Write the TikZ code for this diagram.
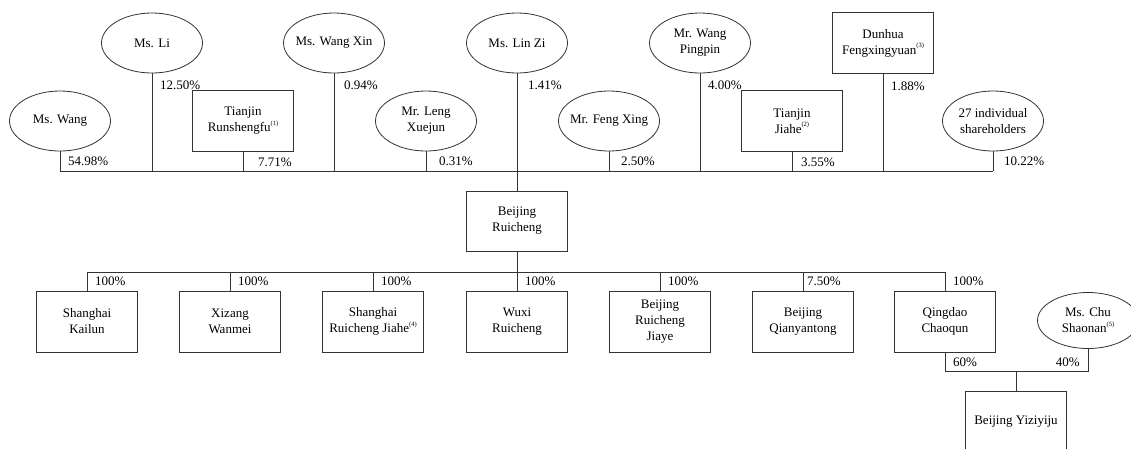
\documentclass[tikz,border=0pt]{standalone}
\usepackage{fontspec}
\setmainfont{Liberation Serif}
\usetikzlibrary{shapes.geometric,calc}
\newcommand\fnmark[1]{\raisebox{0.5em}{\fontsize{6.5}{6.5}\selectfont(#1)}}
\begin{document}
\begin{tikzpicture}[x=1pt,y=-1pt,
  font=\fontsize{13}{16}\selectfont,
  pbox/.style={draw=black!80, line width=0.8pt, minimum width=101pt, minimum height=61pt, inner sep=0pt, align=center},
  pell/.style={ellipse, draw=black!80, line width=0.8pt, minimum width=101pt, minimum height=60pt, inner sep=0pt},
  pct/.style={inner sep=0pt, anchor=west},
  pctr/.style={inner sep=0pt, anchor=east},
  conn/.style={draw=black!80, line width=0.8pt}]
\useasboundingbox (0,0) rectangle (1131,448);
\clip (0,0) rectangle (1131,448);
% top row
\node[pell, label={[align=center]center:Ms. Li}] (li) at (152,43) {};
\node[pell, label={[align=center]center:Ms. Wang Xin}] (wangxin) at (334,43) {};
\node[pell, label={[align=center]center:Ms. Lin Zi}] (linzi) at (517,43) {};
\node[pell, label={[align=center]center:{Mr. Wang\\Pingpin}}] (pingpin) at (700,43) {};
\node[pbox] (dunhua) at (883,43) {Dunhua\\Fengxingyuan\fnmark{3}};
% second row
\node[pell, label={[align=center]center:Ms. Wang}] (wang) at (60,121) {};
\node[pbox] (runsheng) at (243,121) {Tianjin\\Runshengfu\fnmark{1}};
\node[pell, label={[align=center]center:{Mr. Leng\\Xuejun}}] (leng) at (426,121) {};
\node[pell, label={[align=center]center:Mr. Feng Xing}] (feng) at (609,121) {};
\node[pbox] (jiahe) at (792,121) {Tianjin\\Jiahe\fnmark{2}};
\node[pell, label={[align=center]center:{27 individual\\shareholders}}] (indiv) at (993,121) {};
% centre
\node[pbox, minimum height=60pt] (ruicheng) at (517,221) {Beijing\\Ruicheng};
% children
\node[pbox] (kailun) at (87,321.5) {Shanghai\\Kailun};
\node[pbox] (wanmei) at (230,321.5) {Xizang\\Wanmei};
\node[pbox] (srjiahe) at (373,321.5) {Shanghai\\Ruicheng Jiahe\fnmark{4}};
\node[pbox] (wuxi) at (517,321.5) {Wuxi\\Ruicheng};
\node[pbox] (jiaye) at (660,321.5) {Beijing\\Ruicheng\\Jiaye};
\node[pbox] (qian) at (803,321.5) {Beijing\\Qianyantong};
\node[pbox] (qingdao) at (945,321.5) {Qingdao\\Chaoqun};
\node[pell, minimum height=56pt, label={[align=center]center:{Ms. Chu\\Shaonan\fnmark{5}}}] (chu) at (1088,320.5) {};
\node[pbox] (yiziyiju) at (1016,421.5) {Beijing Yiziyiju};
% main bar
\coordinate (mb) at (0,171);
\foreach \n in {wang,li,runsheng,wangxin,leng,linzi,feng,pingpin,jiahe,dunhua,indiv}
  \draw[conn] (\n.south) -- (\n.south |- mb);
\draw[conn] (wang.south |- mb) -- (indiv.south |- mb);
\draw[conn] (linzi.south |- mb) -- (ruicheng.north);
% percentages, upper
\node[pct] (p1) at ($(wang.south)+(8,10)$) {54.98\%};
\node[pct] (p2) at ($(li.south)+(8,12)$) {12.50\%};
\node[pct] (p3) at ($(runsheng.south)+(15,10)$) {7.71\%};
\node[pct] (p4) at ($(wangxin.south)+(10,12)$) {0.94\%};
\node[pct] (p5) at ($(leng.south)+(13,10)$) {0.31\%};
\node[pct] (p6) at ($(linzi.south)+(11,12)$) {1.41\%};
\node[pct] (p7) at ($(feng.south)+(12,10)$) {2.50\%};
\node[pct] (p8) at ($(pingpin.south)+(8,12)$) {4.00\%};
\node[pct] (p9) at ($(jiahe.south)+(9,10)$) {3.55\%};
\node[pct] (p10) at ($(dunhua.south)+(8,12)$) {1.88\%};
\node[pct] (p11) at ($(indiv.south)+(11,10)$) {10.22\%};
% sub bar
\coordinate (sb) at (0,272);
\draw[conn] (ruicheng.south) -- (ruicheng.south |- sb);
\draw[conn] (kailun.north |- sb) -- (qingdao.north |- sb);
\foreach \n in {kailun,wanmei,srjiahe,wuxi,jiaye,qian,qingdao}
  \draw[conn] (\n.north |- sb) -- (\n.north);
\node[pct] (c1) at ($(kailun.north)+(8,-9.5)$) {100\%};
\node[pct] (c2) at ($(wanmei.north)+(8,-9.5)$) {100\%};
\node[pct] (c3) at ($(srjiahe.north)+(8,-9.5)$) {100\%};
\node[pct] (c4) at ($(wuxi.north)+(8,-9.5)$) {100\%};
\node[pct] (c5) at ($(jiaye.north)+(8,-9.5)$) {100\%};
\node[pct] (c6) at ($(qian.north)+(4,-9.5)$) {7.50\%};
\node[pct] (c7) at ($(qingdao.north)+(8,-9.5)$) {100\%};
% bottom bar
\coordinate (bb) at (0,371);
\draw[conn] (qingdao.south) -- (qingdao.south |- bb) -- (chu.south |- bb) -- (chu.south);
\draw[conn] (yiziyiju.north |- bb) -- (yiziyiju.north);
\node[pct] (d1) at ($(qingdao.south)+(8,10)$) {60\%};
\node[pctr] (d2) at ($(chu.south)+(-8,13)$) {40\%};
\end{tikzpicture}
\end{document}
